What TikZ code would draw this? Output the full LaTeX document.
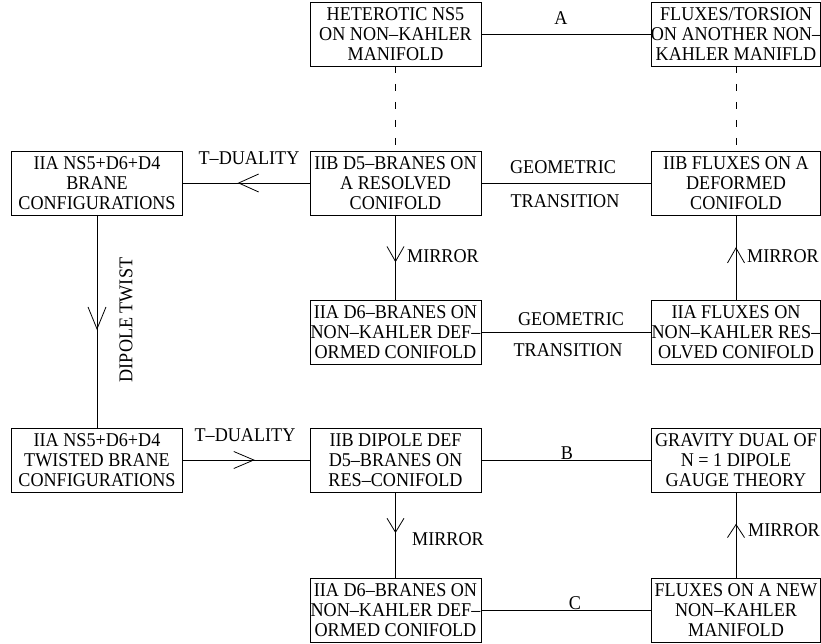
\documentclass[tikz,border=0pt]{standalone}
\usepackage{fontspec}
\setmainfont{Liberation Serif}[FakeStretch=0.93]
\usetikzlibrary{arrows.meta,decorations.markings}
\tikzset{
  boxnode/.style={draw, line width=0.8pt, minimum width=171pt, minimum height=64pt, inner sep=0pt, outer sep=0pt},
  rboxnode/.style={boxnode, minimum width=169pt},
  txt/.style={align=center, font=\fontsize{19.5}{20}\selectfont, inner sep=0pt},
  lbl/.style={font=\fontsize{19.5}{20}\selectfont, inner sep=0pt},
  conn/.style={line width=0.8pt},
  dashconn/.style={line width=0.8pt, dash pattern=on 7pt off 11pt},
  midarrow/.style args={#1/#2/#3}{postaction={decorate}, decoration={markings, mark=at position #1 with {\arrow{Straight Barb[length=#2pt,width=#3pt]}}}}
}
\begin{document}
\begin{tikzpicture}[x=1pt,y=-1pt]
\useasboundingbox (0,0) rectangle (821,644);
\clip (0,0) rectangle (821,644);
% boxes
\node[boxnode] (L1) at (97,183) {};
\node[boxnode] (L2) at (97,460) {};
\node[boxnode] (M0) at (395.5,34) {};
\node[boxnode] (M1) at (395.5,183) {};
\node[boxnode] (M2) at (395.5,332.5) {};
\node[boxnode] (M3) at (395.5,460) {};
\node[boxnode] (M4) at (395.5,610) {};
\node[rboxnode] (R0) at (736,34) {};
\node[rboxnode] (R1) at (736,183) {};
\node[rboxnode] (R2) at (736,332.5) {};
\node[rboxnode] (R3) at (736,460) {};
\node[rboxnode] (R4) at (736,610) {};
% texts
\node[txt] (tL1) at (L1) {IIA NS5+D6+D4\\BRANE\\CONFIGURATIONS};
\node[txt] (tL2) at (L2) {IIA NS5+D6+D4\\TWISTED BRANE\\CONFIGURATIONS};
\node[txt] (tM0) at (M0) {HETEROTIC NS5\\ON NON--KAHLER\\MANIFOLD};
\node[txt] (tM1) at (M1) {IIB D5--BRANES ON\\A RESOLVED\\CONIFOLD};
\node[txt] (tM2) at (M2) {IIA D6--BRANES ON\\NON--KAHLER DEF--\\ORMED CONIFOLD};
\node[txt] (tM3) at (M3) {IIB DIPOLE DEF\\D5--BRANES ON\\RES--CONIFOLD};
\node[txt] (tM4) at (M4) {IIA D6--BRANES ON\\NON--KAHLER DEF--\\ORMED CONIFOLD};
\node[txt] (tR0) at (R0) {FLUXES/TORSION\\ON ANOTHER NON--\\KAHLER MANIFLD};
\node[txt] (tR1) at (R1) {IIB FLUXES ON A\\DEFORMED\\CONIFOLD};
\node[txt] (tR2) at (R2) {IIA FLUXES ON\\NON--KAHLER RES--\\OLVED CONIFOLD};
\node[txt] (tR3) at (R3) {GRAVITY DUAL OF\\N = 1 DIPOLE\\GAUGE THEORY};
\node[txt] (tR4) at (R4) {FLUXES ON A NEW\\NON--KAHLER\\MANIFOLD};
% connectors
\draw[conn] (M0.east) -- (R0.west);
\draw[dashconn] (M0.south) -- (M1.north);
\draw[dashconn] (R0.south) -- (R1.north);
\draw[conn] (M1.east) -- (R1.west);
\draw[conn, midarrow=0.567/20/18] (M1.west) -- (L1.east);
\draw[conn, midarrow=0.54/22/18] (L1.south) -- (L2.north);
\draw[conn, midarrow=0.567/20/17] (L2.east) -- (M3.west);
\draw[conn, midarrow=0.553/15/17] (M1.south) -- (M2.north);
\draw[conn, midarrow=0.624/15/17] (R2.north) -- (R1.south);
\draw[conn] (M2.east) -- (R2.west);
\draw[conn] (M3.east) -- (R3.west);
\draw[conn, midarrow=0.477/14/17] (M3.south) -- (M4.north);
\draw[conn, midarrow=0.63/13/17] (R4.north) -- (R3.south);
\draw[conn] (M4.east) -- (R4.west);
% labels
\node[lbl] (la) at (561,18) {A};
\node[lbl] (lg1) at (563,167) {GEOMETRIC};
\node[lbl] (lt1) at (565,201) {TRANSITION};
\node[lbl] (ltd1) at (249,158) {T--DUALITY};
\node[lbl, rotate=90] (ldt) at (126,320) {DIPOLE TWIST};
\node[lbl] (ltd2) at (245,435) {T--DUALITY};
\node[lbl] (lm1) at (443,256) {MIRROR};
\node[lbl] (lm2) at (783,256) {MIRROR};
\node[lbl] (lg2) at (571,319) {GEOMETRIC};
\node[lbl] (lt2) at (568,350) {TRANSITION};
\node[lbl] (lb) at (567,453) {B};
\node[lbl] (lm3) at (448,539) {MIRROR};
\node[lbl] (lm4) at (784,530) {MIRROR};
\node[lbl] (lc) at (575,603) {C};
\end{tikzpicture}
\end{document}
